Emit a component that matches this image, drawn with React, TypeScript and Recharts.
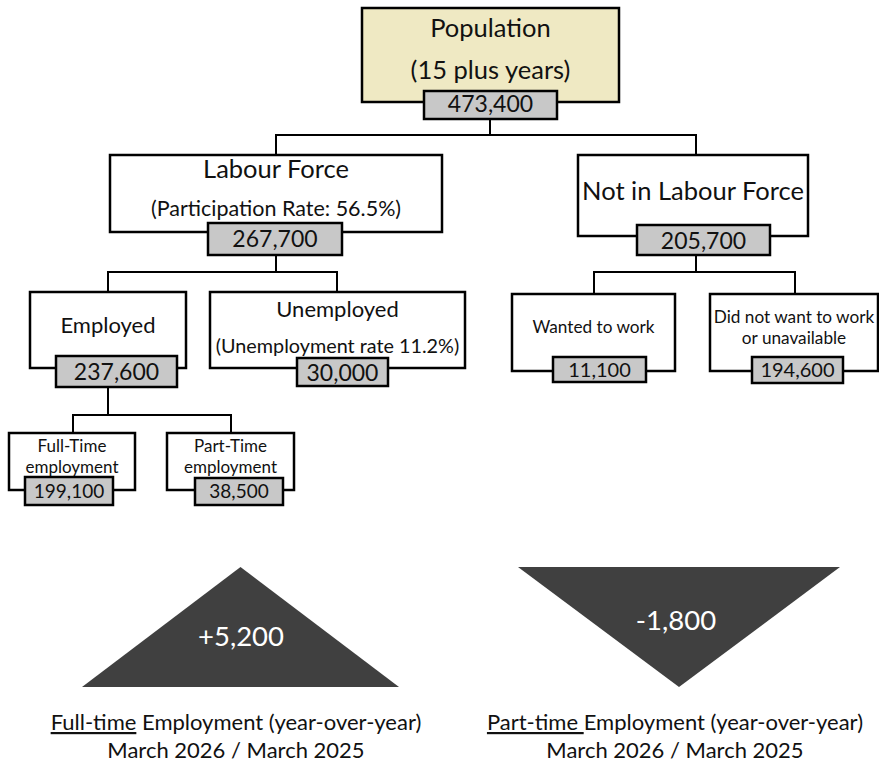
import React from 'react';
import { ScatterChart, Scatter, XAxis, YAxis, ReferenceLine } from 'recharts';

const FONT = 'Lato, "Noto Sans", sans-serif';

// labour force tree
const nodeNames = [
  'Population',
  'Labour Force',
  'Not in Labour Force',
  'Employed',
  'Unemployed',
  'Wanted to work',
  'Did not want to work',
  'Full-Time',
  'Part-Time',
];
const nodeNotes = [
  '(15 plus years)',
  '(Participation Rate: 56.5%)',
  '',
  '',
  '(Unemployment rate 11.2%)',
  '',
  'or unavailable',
  'employment',
  'employment',
];
const nodeValues = [473400, 267700, 205700, 237600, 30000, 11100, 194600, 199100, 38500];
const nodeParents = [-1, 0, 0, 1, 1, 2, 2, 3, 3];

// year-over-year change
const changeLabels = ['Full-time', 'Part-time '];
const changeValues = [5200, -1800];
const changePeriod = 'March 2026 / March 2025';

// where each box sits (axis units = px)
// x: box centre, top/w/h: box, link: x of connector, b1/b2 + f1/f2: text baselines and sizes
// vx/vt/vw/vh: value box, vb/vf: value text, bus: y of the connector to the children
const nodeLayout = [
  { x: 490.5, top: 8, w: 257, h: 94, fill: '#EFE9C3', link: 490, b1: 37, f1: 25.5, b2: 79, f2: 25.5, vx: 490.5, vt: 91, vw: 133, vh: 28, vb: 112, vf: 23, bus: 135 },
  { x: 276, top: 155, w: 332, h: 77, fill: '#FFFFFF', link: 276, b1: 178, f1: 25.5, b2: 216, f2: 21.5, vx: 275, vt: 223, vw: 134, vh: 32, vb: 247, vf: 23, bus: 272 },
  { x: 693, top: 155, w: 230, h: 81, fill: '#FFFFFF', link: 696, b1: 200, f1: 25.5, b2: 0, f2: 0, vx: 703.5, vt: 225, vw: 133, vh: 30, vb: 249, vf: 23, bus: 272 },
  { x: 108, top: 292, w: 156, h: 76, fill: '#FFFFFF', link: 108, b1: 333, f1: 22, b2: 0, f2: 0, vx: 116.5, vt: 356, vw: 121, vh: 31, vb: 380, vf: 23, bus: 415 },
  { x: 337.5, top: 292, w: 255, h: 76, fill: '#FFFFFF', link: 337, b1: 317, f1: 22, b2: 353, f2: 19.8, vx: 342.5, vt: 358, vw: 91, vh: 28, vb: 381, vf: 23, bus: 0 },
  { x: 593.5, top: 294, w: 163, h: 77, fill: '#FFFFFF', link: 594, b1: 333, f1: 17.2, b2: 0, f2: 0, vx: 599.5, vt: 357, vw: 93, vh: 25, vb: 377, vf: 20, bus: 0 },
  { x: 794, top: 294, w: 168, h: 77, fill: '#FFFFFF', link: 795, b1: 323, f1: 17.2, b2: 344, f2: 17.2, vx: 797.5, vt: 357, vw: 91, vh: 26, vb: 377, vf: 20, bus: 0 },
  { x: 72, top: 433, w: 126, h: 57, fill: '#FFFFFF', link: 73, b1: 452, f1: 17, b2: 473, f2: 17, vx: 69, vt: 477, vw: 88, vh: 28, vb: 498, vf: 19, bus: 0 },
  { x: 230.5, top: 433, w: 127, h: 57, fill: '#FFFFFF', link: 231, b1: 452, f1: 17, b2: 473, f2: 17, vx: 239, vt: 478, vw: 88, vh: 27, vb: 498, vf: 19, bus: 0 },
];

const changeLayout = [
  { x: 240.5, top: 567, h: 120, hw: 158.5, tx: 241, tb: 646, capX: 236 },
  { x: 679, top: 567, h: 120, hw: 161, tx: 676, tb: 630, capX: 675 },
];

const fmt = (v: number) => v.toLocaleString('en-US');

const nodes = nodeNames.map((name, i) => ({
  x: nodeLayout[i].x,
  y: nodeLayout[i].top,
  i,
  name,
  note: nodeNotes[i],
  value: nodeValues[i],
}));

const changes = changeValues.map((value, i) => ({
  x: changeLayout[i].x,
  y: changeLayout[i].top,
  i,
  value,
  label: changeLabels[i],
}));

// connectors: parent value box -> bus -> child box tops
const connectors: { x1: number; y1: number; x2: number; y2: number }[] = [];
nodeLayout.forEach((p, i) => {
  const kids = nodeParents.map((pp, j) => (pp === i ? j : -1)).filter((j) => j >= 0);
  if (!kids.length) return;
  connectors.push({ x1: p.link, y1: p.vt + p.vh, x2: p.link, y2: p.bus });
  const xs = kids.map((k) => nodeLayout[k].link).concat(p.link);
  connectors.push({ x1: Math.min(...xs), y1: p.bus, x2: Math.max(...xs), y2: p.bus });
  kids.forEach((k) => {
    const c = nodeLayout[k];
    connectors.push({ x1: c.link, y1: p.bus, x2: c.link, y2: c.top });
  });
});

const NodeShape = (props: any) => {
  const { cx, cy, payload } = props;
  const L = nodeLayout[payload.i];
  const px = (v: number) => cx + (v - L.x);
  const py = (v: number) => cy + (v - L.top);
  return (
    <g>
      <rect x={cx - L.w / 2} y={cy} width={L.w} height={L.h} fill={L.fill} stroke="#000" strokeWidth={2.5} />
      <text x={cx} y={py(L.b1)} textAnchor="middle" fontSize={L.f1} fontFamily={FONT} fill="#111">
        {payload.name}
      </text>
      {payload.note ? (
        <text x={cx} y={py(L.b2)} textAnchor="middle" fontSize={L.f2} fontFamily={FONT} fill="#111">
          {payload.note}
        </text>
      ) : null}
      <rect x={px(L.vx) - L.vw / 2} y={py(L.vt)} width={L.vw} height={L.vh} fill="#C8C8C8" stroke="#000" strokeWidth={2.5} />
      <text x={px(L.vx)} y={py(L.vb)} textAnchor="middle" fontSize={L.vf} fontFamily={FONT} fill="#111">
        {fmt(payload.value)}
      </text>
    </g>
  );
};

const ChangeShape = (props: any) => {
  const { cx, cy, payload } = props;
  const L = changeLayout[payload.i];
  const py = (v: number) => cy + (v - L.top);
  const up = payload.value >= 0;
  const pts = up
    ? `${cx},${cy} ${cx - L.hw},${cy + L.h} ${cx + L.hw},${cy + L.h}`
    : `${cx - L.hw},${cy} ${cx + L.hw},${cy} ${cx},${cy + L.h}`;
  const txt = (up ? '+' : '-') + fmt(Math.abs(payload.value));
  const capX = cx + (L.capX - L.x);
  return (
    <g>
      <polygon points={pts} fill="#404040" />
      <text x={cx + (L.tx - L.x)} y={py(L.tb)} textAnchor="middle" fontSize={27.5} fontFamily={FONT} fill="#FFFFFF">
        {txt}
      </text>
      <text x={capX} y={py(730)} textAnchor="middle" fontSize={22} fontFamily={FONT} fill="#111">
        <tspan textDecoration="underline" style={{ textDecoration: 'underline' }}>{payload.label}</tspan>
        <tspan>{payload.label.endsWith(' ') ? '' : ' '}Employment (year-over-year)</tspan>
      </text>
      <text x={capX} y={py(758)} textAnchor="middle" fontSize={22} fontFamily={FONT} fill="#111">
        {changePeriod}
      </text>
    </g>
  );
};

export default function App() {
  return (
    <div style={{ position: 'absolute', left: 0, top: 0, background: '#fff' }}>
      <ScatterChart width={879} height={768} margin={{ top: 0, right: 0, bottom: 0, left: 0 }}>
        <XAxis type="number" dataKey="x" domain={[0, 879]} hide />
        <YAxis type="number" dataKey="y" domain={[0, 768]} reversed hide />
        {connectors.map((c, i) => (
          <ReferenceLine
            key={i}
            segment={[
              { x: c.x1, y: c.y1 },
              { x: c.x2, y: c.y2 },
            ]}
            stroke="#000"
            strokeWidth={2}
            strokeLinecap="square"
          />
        ))}
        <Scatter data={nodes} shape={(p: any) => <NodeShape {...p} />} isAnimationActive={false} />
        <Scatter data={changes} shape={(p: any) => <ChangeShape {...p} />} isAnimationActive={false} />
      </ScatterChart>
    </div>
  );
}
